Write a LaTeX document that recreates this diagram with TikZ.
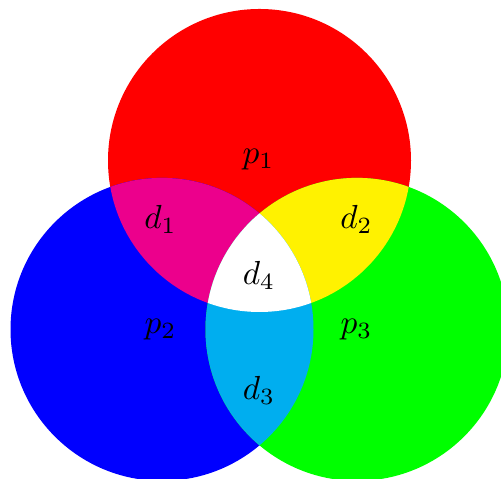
\documentclass[tikz,border=0pt]{standalone}
\definecolor{cRed}{RGB}{255,0,0}
\definecolor{cBlue}{RGB}{0,0,255}
\definecolor{cGreen}{RGB}{0,255,0}
\definecolor{cMag}{RGB}{236,0,140}
\definecolor{cYel}{RGB}{255,242,0}
\definecolor{cCyan}{RGB}{0,174,239}
\begin{document}
\begin{tikzpicture}[x=0.3pt,y=-0.3pt,
  lbl/.style={inner sep=0pt}]
\clip (0,0) rectangle (501,479);
\useasboundingbox (0,0) rectangle (501,479);
\def\R{151.5}
\coordinate (cr) at (259.5,160.5);
\coordinate (cb) at (162,329.4);
\coordinate (cg) at (357,329.4);
\fill[cRed] (cr) circle[radius=\R];
\fill[cBlue] (cb) circle[radius=\R];
\fill[cGreen] (cg) circle[radius=\R];
\begin{scope}
  \clip (cr) circle[radius=\R];
  \fill[cMag] (cb) circle[radius=\R];
  \fill[cYel] (cg) circle[radius=\R];
\end{scope}
\begin{scope}
  \clip (cb) circle[radius=\R];
  \fill[cCyan] (cg) circle[radius=\R];
  \clip (cg) circle[radius=\R];
  \fill[white] (cr) circle[radius=\R];
\end{scope}
\node[lbl] (p1) at (258.5,160) {$p_1$};
\node[lbl] (p2) at (160.5,330) {$p_2$};
\node[lbl] (p3) at (356.5,330) {$p_3$};
\node[lbl] (d1) at (160.5,219) {$d_1$};
\node[lbl] (d2) at (356.5,219) {$d_2$};
\node[lbl] (d3) at (259,390) {$d_3$};
\node[lbl] (d4) at (259,275) {$d_4$};
\end{tikzpicture}
\end{document}
